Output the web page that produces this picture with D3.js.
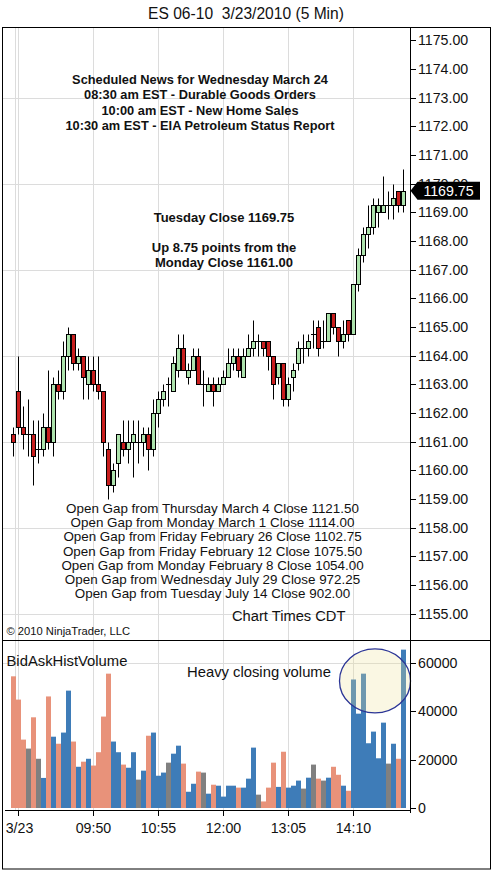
<!DOCTYPE html>
<html><head><meta charset="utf-8">
<script src="https://cdn.jsdelivr.net/npm/d3@7"></script>
<style>html,body{margin:0;padding:0;background:#fff;} svg{display:block;font-family:"Liberation Sans",Arial,sans-serif;}</style>
</head><body><svg id="c" width="493" height="871"></svg>
<script>
// ---------------- DATA ----------------
const times = ["3/22 15:00",
 "08:35","08:40","08:45","08:50","08:55",
 "09:00","09:05","09:10","09:15","09:20","09:25","09:30","09:35","09:40","09:45","09:50","09:55",
 "10:00","10:05","10:10","10:15","10:20","10:25","10:30","10:35","10:40","10:45","10:50","10:55",
 "11:00","11:05","11:10","11:15","11:20","11:25","11:30","11:35","11:40","11:45","11:50","11:55",
 "12:00","12:05","12:10","12:15","12:20","12:25","12:30","12:35","12:40","12:45","12:50","12:55",
 "13:00","13:05","13:10","13:15","13:20","13:25","13:30","13:35","13:40","13:45","13:50","13:55",
 "14:00","14:05","14:10","14:15","14:20","14:25","14:30","14:35","14:40","14:45","14:50","14:55",
 "15:00"];
const open = [1161.25,1162.75,1161.5,1161.25,1161.25,1160.75,1160.75,1161.5,1161.0,1163.0,
 1162.75,1164.0,1164.75,1163.75,1164.0,1163.0,1163.5,1163.0,1162.75,1160.75,
 1159.5,1160.25,1161.0,1160.75,1161.0,1161.0,1161.0,1161.25,1160.75,1162.0,
 1162.5,1163.0,1162.75,1163.5,1164.25,1163.25,1163.5,1164.0,1163.0,1162.75,
 1163.0,1162.75,1163.0,1163.25,1163.75,1164.0,1163.25,1164.0,1164.25,1164.5,
 1164.5,1164.5,1164.0,1163.25,1163.75,1162.5,1163.25,1163.75,1164.25,1164.25,
 1164.75,1165.0,1164.5,1164.5,1165.5,1165.0,1164.5,1165.25,1164.75,1166.5,
 1167.5,1168.25,1168.5,1169.0,1169.0,1169.25,1169.25,1169.75,1169.25];
const high = [1161.5,1164.0,1162.25,1162.5,1161.75,1161.75,1162.0,1163.5,1163.25,1163.5,
 1164.5,1165.0,1164.75,1164.25,1164.0,1164.0,1164.0,1164.0,1162.75,1161.0,
 1160.25,1161.25,1161.75,1161.75,1161.75,1161.75,1161.5,1161.5,1162.5,1162.75,
 1163.0,1163.25,1164.0,1164.75,1164.75,1163.75,1164.25,1164.25,1163.5,1163.25,
 1163.25,1163.25,1163.5,1164.25,1164.25,1164.25,1164.25,1164.75,1165.25,1164.75,
 1164.5,1164.5,1164.0,1163.75,1163.75,1163.25,1163.75,1164.5,1164.75,1164.75,
 1165.25,1165.25,1165.25,1165.5,1165.5,1165.0,1165.25,1165.25,1166.5,1167.75,
 1168.5,1169.25,1169.5,1169.5,1170.25,1169.75,1170.0,1169.75,1170.5];
const low = [1160.5,1161.25,1160.75,1160.5,1159.5,1160.25,1160.5,1160.75,1160.5,1162.5,
 1162.5,1163.5,1163.5,1163.5,1162.5,1162.5,1162.75,1162.5,1160.5,1159.0,
 1159.25,1159.75,1160.5,1160.25,1159.75,1160.25,1160.5,1160.0,1160.5,1161.5,
 1162.25,1162.25,1162.75,1163.25,1163.5,1163.0,1163.5,1163.0,1162.25,1162.75,
 1162.25,1162.75,1163.0,1163.25,1163.5,1163.25,1163.25,1164.0,1164.0,1164.0,
 1164.0,1163.5,1162.5,1163.0,1162.25,1162.25,1162.75,1163.5,1163.75,1164.0,
 1164.25,1164.0,1164.25,1164.5,1164.75,1164.0,1164.25,1164.5,1164.75,1166.25,
 1167.25,1167.75,1168.25,1168.5,1169.0,1168.75,1168.75,1169.0,1169.0];
const close = [1161.0,1161.5,1161.25,1161.25,1160.5,1160.75,1161.5,1161.0,1163.0,1162.75,
 1164.0,1164.75,1163.75,1164.0,1163.25,1163.5,1163.0,1162.75,1161.0,1159.5,
 1160.0,1161.25,1160.75,1161.0,1161.25,1161.0,1161.25,1160.75,1162.0,1162.5,
 1162.75,1163.0,1163.75,1164.25,1163.5,1163.5,1164.0,1163.0,1163.0,1163.0,
 1162.75,1163.0,1163.25,1163.75,1164.0,1163.5,1164.0,1164.25,1164.5,1164.5,
 1164.25,1164.0,1163.0,1163.75,1162.5,1163.0,1163.5,1164.25,1164.25,1164.5,
 1164.75,1164.25,1164.5,1165.5,1165.0,1164.5,1164.75,1164.75,1166.5,1167.5,
 1168.25,1168.5,1169.25,1169.25,1169.25,1169.25,1169.5,1169.25,1169.75];
const volume = [54300,44700,28200,24500,37400,20300,12400,46000,29400,26500,
 31100,48400,27400,17000,19100,20300,17500,23000,37700,55400,
 27400,23000,17900,16600,23000,11700,15400,29800,31100,13300,
 14600,18700,22400,25700,18300,6700,10000,15000,14600,5900,
 9600,9200,4700,9200,9200,8400,8400,12100,24900,5500,
 2700,8400,18700,8700,23200,8400,9200,11300,8000,12500,
 17900,12100,11300,12500,17000,13700,9200,7100,53000,38900,
 55400,26700,31500,20500,35200,18300,26500,20300,65300];
// a = at ask (salmon), b = at bid (blue), n = neutral (gray)
const side = ["a","a","a","n","a","n","b","a","b","a",
 "b","b","a","b","a","b","a","a","a","a",
 "b","b","a","b","b","n","b","a","b","b",
 "b","n","b","b","a","b","b","a","n","b",
 "a","b","b","b","b","a","b","b","b","n",
 "a","a","a","b","a","b","b","b","n","b",
 "n","a","n","b","a","a","b","a","b","b",
 "b","b","b","b","b","n","b","a","b"];
const priceTicks = [1155,1156,1157,1158,1159,1160,1161,1162,1163,1164,1165,1166,1167,1168,1169,1170,1171,1172,1173,1174,1175];
const priceGrid = [1155,1158,1161,1164,1167,1170,1173];
const volTicks = [0,20000,40000,60000];
const volGrid = [60000];
const timeTicks = ["08:35","09:50","10:55","12:00","13:05","14:10"];
const timeTickLabels = ["3/23","09:50","10:55","12:00","13:05","14:10"];
const lastPrice = 1169.75;
const titleText = "ES 06-10  3/23/2010 (5 Min)";
const newsLines = ["Scheduled News for Wednesday March 24","08:30 am EST - Durable Goods Orders","10:00 am EST - New Home Sales","10:30 am EST - EIA Petroleum Status Report"];
const closeLines = ["Tuesday Close 1169.75","","Up 8.75 points from the","Monday Close 1161.00"];
const gapLines = ["Open Gap from Thursday March 4 Close 1121.50","Open Gap from Monday March 1 Close 1114.00","Open Gap from Friday February 26 Close 1102.75","Open Gap from Friday February 12 Close 1075.50","Open Gap from Monday February 8 Close 1054.00","Open Gap from Wednesday July 29 Close 972.25","Open Gap from Tuesday July 14 Close 902.00"];

// ---------------- LAYOUT ----------------
const svg = d3.select("#c");
const LEFT = 2.5, AXR = 410.5, RIGHT = 490.5, TOP = 27.5, SEP = 640.5, XAX = 810.5, BOT = 869;
const x = d3.scaleBand().domain(times).range([11, 406]);
const cx = t => x(t) + x.bandwidth() / 2;
const y = d3.scaleLinear().domain([1155, 1175]).range([613.5, 40.3]);
const yv = d3.scaleLinear().domain([0, 60000]).range([808, 662.5]);
const ry = v => Math.round(y(v)) + 0.5;
const GRID = "#dcdcdc";

svg.append("rect").attr("width", 493).attr("height", 871).attr("fill", "#fff");

// title
svg.append("text").attr("x", 246).attr("y", 19).attr("text-anchor", "middle")
  .style("white-space", "pre").attr("font-size", 15.6).attr("fill", "#111").text(titleText);

// vertical grid
const g = svg.append("g").attr("stroke", GRID).attr("stroke-width", 1);
g.append("line").attr("x1", x(times[1]) - 0.5).attr("x2", x(times[1]) - 0.5)
  .attr("y1", TOP).attr("y2", XAX);
timeTicks.forEach(t => {
  g.append("line").attr("x1", cx(t)).attr("x2", cx(t)).attr("y1", TOP).attr("y2", XAX);
});
// horizontal grid
priceGrid.forEach(v => g.append("line").attr("x1", LEFT).attr("x2", AXR).attr("y1", ry(v)).attr("y2", ry(v)));
volGrid.forEach(v => g.append("line").attr("x1", LEFT).attr("x2", AXR)
  .attr("y1", Math.round(yv(v)) + 0.5).attr("y2", Math.round(yv(v)) + 0.5));

// texts in price panel
const tg = svg.append("g").attr("fill", "#111");
newsLines.forEach((s, i) => tg.append("text").attr("x", 200).attr("y", 84 + i * 15.4)
  .attr("text-anchor", "middle").attr("font-size", 12.8).attr("font-weight", "bold").text(s));
closeLines.forEach((s, i) => tg.append("text").attr("x", 224).attr("y", 222 + i * 15)
  .attr("text-anchor", "middle").attr("font-size", 13).attr("font-weight", "bold").text(s));
gapLines.forEach((s, i) => tg.append("text").attr("x", 212.5).attr("y", 513 + i * 14.2)
  .attr("text-anchor", "middle").attr("font-size", 13.4).text(s));
tg.append("text").attr("x", 232).attr("y", 621).attr("font-size", 14.7).text("Chart Times CDT");
tg.append("text").attr("x", 6.5).attr("y", 634.5).attr("font-size", 11.2).text("\u00a9 2010 NinjaTrader, LLC");

// candles
const cg = svg.append("g");
times.forEach((t, i) => {
  const c = cx(t), o = open[i], cl = close[i];
  cg.append("line").attr("x1", c).attr("x2", c).attr("y1", ry(high[i])).attr("y2", ry(low[i]))
    .attr("stroke", "#000").attr("stroke-width", 1);
  if (o === cl) {
    cg.append("line").attr("x1", c - 2.5).attr("x2", c + 2.5).attr("y1", ry(o)).attr("y2", ry(o))
      .attr("stroke", "#000").attr("stroke-width", 1);
  } else {
    const top = ry(Math.max(o, cl)), bot = ry(Math.min(o, cl));
    cg.append("rect").attr("x", c - 2).attr("width", 4).attr("y", top).attr("height", bot - top)
      .attr("fill", cl > o ? "#ade3ad" : "#c81e1e").attr("stroke", "#000").attr("stroke-width", 1);
  }
});

// volume bars
const colors = { a: "#e8927a", b: "#3e7cb8", n: "#808080" };
const vg = svg.append("g");
times.forEach((t, i) => {
  vg.append("rect").attr("x", x(t)).attr("width", x.bandwidth())
    .attr("y", yv(volume[i])).attr("height", yv(0) - yv(volume[i])).attr("fill", colors[side[i]]);
});

// annotation: ellipse around closing volume
const ex = cx(times[72]) + 1.5, ey = yv(52400);
svg.append("ellipse").attr("cx", ex).attr("cy", ey)
  .attr("rx", x.bandwidth() * 7.1).attr("ry", yv(0) - yv(13200))
  .attr("fill", "#ece49c").attr("fill-opacity", 0.28)
  .attr("stroke", "#2b3596").attr("stroke-width", 1.3);
svg.append("text").attr("x", 187).attr("y", 677).attr("font-size", 14.8).attr("fill", "#111").text("Heavy closing volume");
svg.append("text").attr("x", 6.5).attr("y", 665.5).attr("font-size", 14.8).attr("fill", "#111").text("BidAskHistVolume");

// axes lines
const ag = svg.append("g").attr("stroke", "#000").attr("stroke-width", 1);
ag.append("line").attr("x1", AXR).attr("x2", AXR).attr("y1", TOP).attr("y2", 813);
ag.append("line").attr("x1", 5).attr("x2", AXR).attr("y1", XAX).attr("y2", XAX);
timeTicks.forEach(t => ag.append("line").attr("x1", cx(t)).attr("x2", cx(t)).attr("y1", XAX).attr("y2", 816));
priceTicks.forEach(v => ag.append("line").attr("x1", AXR).attr("x2", 416).attr("y1", ry(v)).attr("y2", ry(v)));
volTicks.forEach(v => ag.append("line").attr("x1", AXR).attr("x2", 416)
  .attr("y1", Math.round(yv(v)) + 0.5).attr("y2", Math.round(yv(v)) + 0.5));

// axis labels
const lg = svg.append("g").attr("fill", "#111").attr("font-size", 14.2);
priceTicks.forEach(v => lg.append("text").attr("x", 418).attr("y", y(v) + 5).text(d3.format(".2f")(v)));
volTicks.forEach(v => lg.append("text").attr("x", 418).attr("y", yv(v) + 5.3).text(v));
timeTicks.forEach((t, i) => lg.append("text").attr("x", cx(t) + (i === 0 ? 1 : 0)).attr("y", 833)
  .attr("text-anchor", "middle").text(timeTickLabels[i]));

// frame
const fg = svg.append("g").attr("stroke", "#000").attr("stroke-width", 1).attr("fill", "none");
fg.append("rect").attr("x", LEFT).attr("y", TOP).attr("width", RIGHT - LEFT).attr("height", BOT - TOP);
fg.append("line").attr("x1", LEFT).attr("x2", RIGHT).attr("y1", SEP).attr("y2", SEP);

// last price marker
const ym = y(lastPrice);
svg.append("path").attr("d", `M${AXR},${ym} L${AXR + 7},${ym - 9} L480,${ym - 9} L480,${ym + 9} L${AXR + 7},${ym + 9} Z`)
  .attr("fill", "#000");
svg.append("text").attr("x", 448.5).attr("y", ym + 5).attr("text-anchor", "middle")
  .attr("font-size", 14.2).attr("fill", "#fff").text(d3.format(".2f")(lastPrice));
</script></body></html>
